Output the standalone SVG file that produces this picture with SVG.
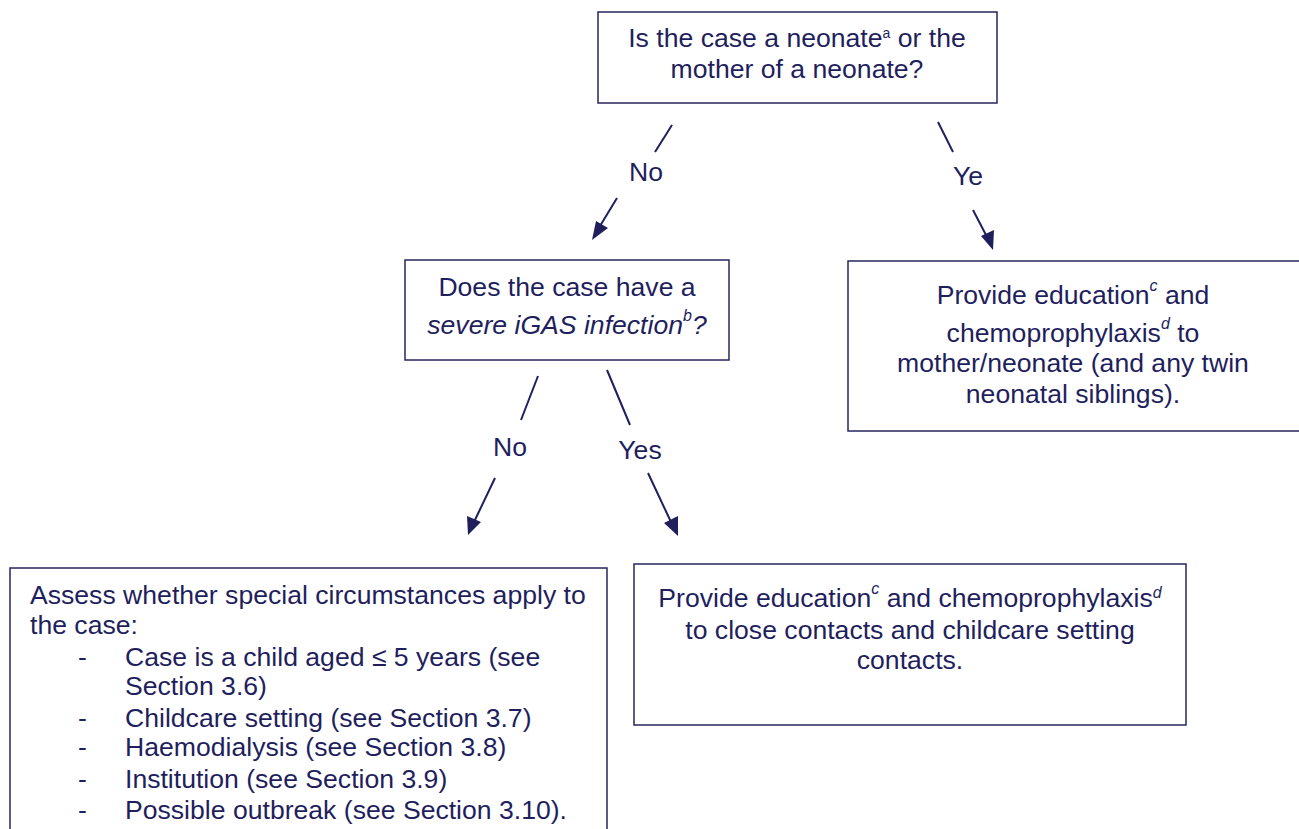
<svg xmlns="http://www.w3.org/2000/svg" width="1299" height="829" viewBox="0 0 1299 829">
<style>
text{font-family:"Liberation Sans",Arial,sans-serif;font-size:26.6px;fill:#1f1f5e}
.c{text-anchor:middle}
.sup{font-size:16px;font-style:italic}
.box{fill:#fff;stroke:#26265f;stroke-width:1.5}
.ln{stroke:#1f1f5e;stroke-width:2;fill:none}
.ah{fill:#1f1f5e}
</style>
<rect width="1299" height="829" fill="#fff"/>
<g id="connectors">
<line class="ln" x1="672" y1="125" x2="655" y2="152"/>
<line class="ln" x1="617" y1="198" x2="600" y2="226"/>
<path class="ah" d="M592,240 L596,221 L608,228 z"/>
<line class="ln" x1="938" y1="122" x2="953" y2="152"/>
<line class="ln" x1="973" y1="210" x2="986" y2="235"/>
<path class="ah" d="M993,250 L981,236 L994,230 z"/>
<line class="ln" x1="538" y1="376" x2="521" y2="420"/>
<line class="ln" x1="495" y1="478" x2="474" y2="522"/>
<path class="ah" d="M468,535 L467,516 L481,522 z"/>
<line class="ln" x1="607" y1="370" x2="630" y2="425"/>
<line class="ln" x1="648" y1="473" x2="671" y2="522"/>
<path class="ah" d="M678,536 L664,523 L678,516 z"/>
<text x="646" y="181" class="c">No</text>
<text x="968" y="185" class="c">Ye</text>
<text x="510" y="456" class="c">No</text>
<text x="640" y="459" class="c">Yes</text>
</g>
<g id="n1">
<rect class="box" x="598" y="12" width="399" height="91"/>
<text x="797" y="47" class="c">Is the case a neonate<tspan dy="-9" font-size="14">a</tspan><tspan dy="9"> or the</tspan></text>
<text x="797" y="78" class="c">mother of a neonate?</text>
</g>
<g id="n2">
<rect class="box" x="405" y="260" width="324" height="100"/>
<text x="567" y="296" class="c">Does the case have a</text>
<text x="567" y="334" class="c" font-style="italic">severe iGAS infection<tspan dy="-13" class="sup">b</tspan><tspan dy="13">?</tspan></text>
</g>
<g id="n3">
<rect class="box" x="848" y="261" width="455" height="170"/>
<text x="1073" y="304" class="c">Provide education<tspan dy="-13" class="sup">c</tspan><tspan dy="13"> and</tspan></text>
<text x="1073" y="342" class="c">chemoprophylaxis<tspan dy="-13" class="sup">d</tspan><tspan dy="13"> to</tspan></text>
<text x="1073" y="372" class="c">mother/neonate (and any twin</text>
<text x="1073" y="403" class="c">neonatal siblings).</text>
</g>
<g id="n4">
<rect class="box" x="10" y="568" width="597" height="270"/>
<text x="30" y="604">Assess whether special circumstances apply to</text>
<text x="30" y="634">the case:</text>
<text x="78" y="666">-</text><text x="125" y="666">Case is a child aged ≤ 5 years (see</text>
<text x="125" y="695">Section 3.6)</text>
<text x="78" y="727">-</text><text x="125" y="727">Childcare setting (see Section 3.7)</text>
<text x="78" y="756">-</text><text x="125" y="756">Haemodialysis (see Section 3.8)</text>
<text x="78" y="788">-</text><text x="125" y="788">Institution (see Section 3.9)</text>
<text x="78" y="819">-</text><text x="125" y="819">Possible outbreak (see Section 3.10).</text>
</g>
<g id="n5">
<rect class="box" x="634" y="564" width="552" height="161"/>
<text x="910" y="607" class="c">Provide education<tspan dy="-13" class="sup">c</tspan><tspan dy="13"> and chemoprophylaxis</tspan><tspan dy="-9" class="sup" font-size="14">d</tspan></text>
<text x="910" y="639" class="c">to close contacts and childcare setting</text>
<text x="910" y="669" class="c">contacts.</text>
</g>
</svg>
